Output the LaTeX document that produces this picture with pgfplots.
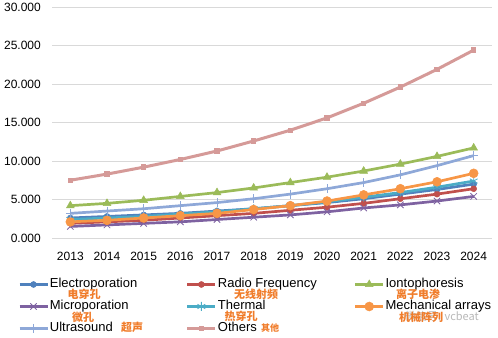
\documentclass[border=0pt]{standalone}
\usepackage{pgfplots}
\pgfplotsset{compat=1.18}
\usepackage{fontspec}
\setmainfont{Liberation Sans}
\newfontfamily\cjk{Noto Sans CJK SC}
\definecolor{cElec}{HTML}{4F81BD}
\definecolor{cRadio}{HTML}{C0504D}
\definecolor{cIon}{HTML}{9BBB59}
\definecolor{cMicro}{HTML}{7E62A1}
\definecolor{cTherm}{HTML}{4BACC6}
\definecolor{cMech}{HTML}{F79646}
\definecolor{cUltra}{HTML}{8EA8D8}
\definecolor{cOther}{HTML}{D59A98}
\definecolor{gridgray}{HTML}{D9D9D9}
\definecolor{cnorange}{HTML}{F07C2A}
\begin{document}
\begin{tikzpicture}[x=1bp,y=1bp]
\path[use as bounding box] (0,0) rectangle (498,337);
\begin{axis}[
  at={(52bp,99bp)}, anchor=south west,
  scale only axis, width=440bp, height=231bp,
  xmin=2012.5, xmax=2024.5, ymin=0, ymax=30,
  xtick={2013,2014,...,2024}, ytick={0,5,...,30},
  axis line style={draw=none}, tick style={draw=none},
  ymajorgrids, grid style={color=gridgray, line width=0.9pt},
  /pgf/number format/assume math mode=true,
  font=\fontsize{12bp}{14bp}\selectfont,
  yticklabel style={/pgf/number format/fixed, /pgf/number format/fixed zerofill, /pgf/number format/precision=3, /pgf/number format/1000 sep={}, anchor=east, inner sep=0pt, xshift=-11bp},
  xticklabel style={/pgf/number format/1000 sep={}, anchor=north, inner sep=0pt, yshift=-14bp},
  every axis plot/.append style={line width=2.7bp},
  legend columns=3,
  legend cell align=left,
  legend style={at={(-0.0773,-0.169)}, anchor=north west, draw=none, fill=none,
    inner sep=0pt, /tikz/column sep=0pt, /tikz/row sep=7.5bp,
    font=\fontsize{13bp}{15bp}\selectfont,
    nodes={inner sep=1bp, text height=9.5bp, text depth=3bp}},
  legend image code/.code={\draw[mark repeat=2,mark phase=2,#1] plot coordinates {(0bp,0bp)(14bp,0bp)(28bp,0bp)};},
]
\addplot[color=cElec, mark=*, mark size=3bp, mark options={solid,line width=0.5bp}] coordinates {
(2013,2.6)(2014,2.8)(2015,3.0)(2016,3.2)(2017,3.5)(2018,3.8)(2019,4.2)(2020,4.6)(2021,5.1)(2022,5.7)(2023,6.3)(2024,7.0)};
\addlegendentry{\makebox[135bp][l]{Electroporation}}
\addplot[color=cRadio, mark=*, mark size=3bp, mark options={solid,line width=0.5bp}] coordinates {
(2013,1.9)(2014,2.1)(2015,2.3)(2016,2.6)(2017,2.9)(2018,3.2)(2019,3.6)(2020,4.0)(2021,4.5)(2022,5.1)(2023,5.7)(2024,6.4)};
\addlegendentry{\makebox[135bp][l]{Radio Frequency}}
\addplot[color=cIon, mark=triangle*, mark size=4.5bp, mark options={solid,line width=0.5bp}] coordinates {
(2013,4.2)(2014,4.5)(2015,4.9)(2016,5.4)(2017,5.9)(2018,6.5)(2019,7.2)(2020,7.9)(2021,8.7)(2022,9.6)(2023,10.6)(2024,11.7)};
\addlegendentry{Iontophoresis}
\addplot[color=cMicro, mark=x, mark size=4.5bp, mark options={solid,line width=0.8bp}] coordinates {
(2013,1.5)(2014,1.7)(2015,1.9)(2016,2.1)(2017,2.4)(2018,2.7)(2019,3.0)(2020,3.4)(2021,3.9)(2022,4.3)(2023,4.8)(2024,5.4)};
\addlegendentry{\makebox[135bp][l]{Microporation}}
\addplot[color=cTherm, mark=asterisk, mark size=4.5bp, mark options={solid,line width=0.8bp}] coordinates {
(2013,2.4)(2014,2.6)(2015,2.8)(2016,3.1)(2017,3.4)(2018,3.8)(2019,4.2)(2020,4.7)(2021,5.3)(2022,5.9)(2023,6.6)(2024,7.4)};
\addlegendentry{\makebox[135bp][l]{Thermal}}
\addplot[color=cMech, mark=*, mark size=4.5bp, mark options={solid,line width=0.5bp}] coordinates {
(2013,2.1)(2014,2.3)(2015,2.6)(2016,2.9)(2017,3.2)(2018,3.7)(2019,4.2)(2020,4.8)(2021,5.6)(2022,6.4)(2023,7.3)(2024,8.4)};
\addlegendentry{Mechanical arrays}
\addplot[color=cUltra, mark=+, mark size=4.5bp, mark options={solid,line width=0.8bp}] coordinates {
(2013,3.2)(2014,3.5)(2015,3.8)(2016,4.2)(2017,4.6)(2018,5.1)(2019,5.7)(2020,6.4)(2021,7.2)(2022,8.2)(2023,9.4)(2024,10.7)};
\addlegendentry{\makebox[135bp][l]{Ultrasound}}
\addplot[color=cOther, line width=3bp, mark=square*, mark size=1.2bp, mark options={solid}] coordinates {
(2013,7.5)(2014,8.3)(2015,9.2)(2016,10.2)(2017,11.3)(2018,12.6)(2019,14.0)(2020,15.6)(2021,17.5)(2022,19.6)(2023,21.9)(2024,24.4)};
\addlegendentry{\makebox[135bp][l]{Others}}
\end{axis}
\node[text=gray!70, opacity=0.8, font=\cjk\fontsize{11bp}{13bp}\selectfont] at (442,21) {微信号: vcbeat};
\begin{scope}[every node/.style={text=cnorange, font=\cjk\bfseries\fontsize{11bp}{13bp}\selectfont, inner sep=0pt}]
\node at (84,43) {电穿孔};
\node at (256,43) {无线射频};
\node at (418,43) {离子电渗};
\node at (83,20) {微孔};
\node at (241,21) {热穿孔};
\node at (421,20) {机械阵列};
\node at (132,10) {超声};
\node[font=\cjk\bfseries\fontsize{9bp}{11bp}\selectfont] at (270,9) {其他};
\end{scope}
\end{tikzpicture}
\end{document}
